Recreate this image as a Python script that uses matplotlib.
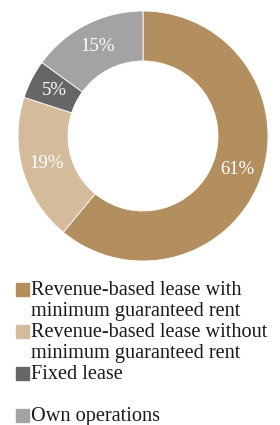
import matplotlib
matplotlib.use("Agg")
import matplotlib.pyplot as plt
from matplotlib.patches import Rectangle

# data
categories = ["Revenue-based lease with\nminimum guaranteed rent",
              "Revenue-based lease without\nminimum guaranteed rent",
              "Fixed lease\n",
              "Own operations"]
shares = [61, 19, 5, 15]
colors = ["#B38F5F", "#D3BB9C", "#666666", "#A3A3A3"]

W, H = 280, 425
fig = plt.figure(figsize=(W / 100, H / 100), dpi=100)
plt.rcParams["font.family"] = ["Liberation Serif", "DejaVu Serif"]

# donut
cx, cy, r = 143, 136, 125
ax = fig.add_axes([(cx - r) / W, 1 - (cy + r) / H, 2 * r / W, 2 * r / H])
wedges, texts = ax.pie(shares, colors=colors, startangle=90, counterclock=False,
                       labels=[f"{v}%" for v in shares], labeldistance=0.8,
                       wedgeprops=dict(width=0.4, edgecolor="white", linewidth=0.6),
                       textprops=dict(color="white", fontsize=13.5))
for t in texts:
    t.set_ha("center")
    t.set_va("center")
ax.set_xlim(-1, 1)
ax.set_ylim(-1, 1)
ax.set_aspect("equal")
ax.axis("off")

# legend drawn by hand
row_h = 21
y = 289.5
for lab, col in zip(categories, colors):
    fig.patches.append(Rectangle(((16) / W, 1 - (y + 6.5) / H), 13 / W, 13 / H,
                                 transform=fig.transFigure, color=col))
    for line in lab.split("\n"):
        if line:
            fig.text(31 / W, 1 - (y + 5.5) / H, line, fontsize=14.6,
                     color="#1a1a1a", va="baseline", ha="left")
        y += row_h

fig.savefig("out.png", dpi=100)
